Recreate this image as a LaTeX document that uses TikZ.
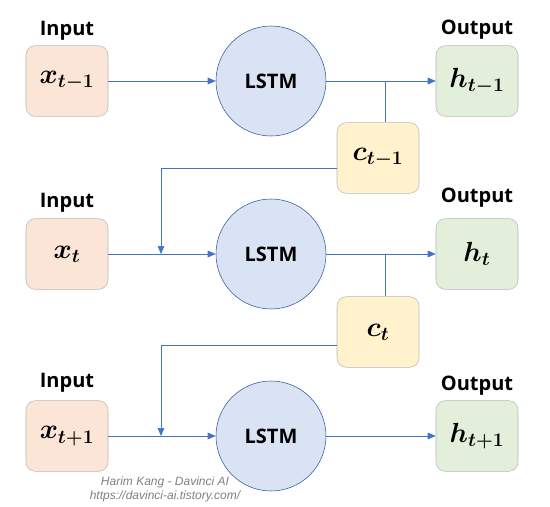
\documentclass[tikz,border=0pt]{standalone}
\usepackage{amsmath}
\usepackage{fontspec}
\setsansfont{Open Sans}
\newfontfamily\markfont{Liberation Sans}
\usetikzlibrary{arrows.meta, positioning}

\definecolor{inFill}{HTML}{FBE5D6}
\definecolor{outFill}{HTML}{E2EFDA}
\definecolor{cellFill}{HTML}{FFF2CC}
\definecolor{lstmFill}{HTML}{DAE3F3}
\definecolor{lstmLine}{HTML}{2F5597}
\definecolor{flowLine}{HTML}{4472C4}

\begin{document}
\begin{tikzpicture}[
        x=0.75pt,
        y=-0.75pt,
        box/.style={draw=gray!55,rounded corners=7pt,minimum width=61.5pt,minimum height=53pt,inner sep=0pt,font=\fontsize{20}{22}\selectfont},
        inbox/.style={box,fill=inFill},
        outbox/.style={box,fill=outFill},
        cellbox/.style={box,fill=cellFill},
        lstm/.style={circle,draw=lstmLine,fill=lstmFill,minimum size=82.5pt,inner sep=0pt,font=\sffamily\bfseries\fontsize{15}{17}\selectfont},
        lbl/.style={font=\sffamily\bfseries\fontsize{15}{17}\selectfont,inner sep=1pt},
        flow/.style={-{Triangle[length=6pt,width=5pt]},flowLine},
        wire/.style={flowLine}
    ]
        \useasboundingbox (0,0) rectangle (550,507);
        % three time steps
        \node[inbox] (x1) at (67,81) {$\boldsymbol{x_{t-1}}$};
        \node[inbox] (x2) at (67,254) {$\boldsymbol{x_{t}}$};
        \node[inbox] (x3) at (67,436) {$\boldsymbol{x_{t+1}}$};
        \node[lstm] (l1) at (271,81) {LSTM};
        \node[lstm] (l2) at (271,254) {LSTM};
        \node[lstm] (l3) at (271,436) {LSTM};
        \node[outbox] (h1) at (477,81) {$\boldsymbol{h_{t-1}}$};
        \node[outbox] (h2) at (477,254) {$\boldsymbol{h_{t}}$};
        \node[outbox] (h3) at (477,436) {$\boldsymbol{h_{t+1}}$};
        \node[cellbox] (c1) at (378,158) {$\boldsymbol{c_{t-1}}$};
        \node[cellbox] (c2) at (378,332) {$\boldsymbol{c_{t}}$};
        % labels
        \node[lbl,above=2.5pt of x1] (lx1) {Input};
        \node[lbl,above=3pt of x2] (lx2) {Input};
        \node[lbl,above=5pt of x3] (lx3) {Input};
        \node[lbl,above=3pt of h1] (lh1) {Output};
        \node[lbl,above=7pt of h2] (lh2) {Output};
        \node[lbl,above=3pt of h3] (lh3) {Output};
        % flows
        \draw[flow] (x1) -- (l1);
        \draw[flow] (x2) -- (l2);
        \draw[flow] (x3) -- (l3);
        \draw[flow] (l1) -- (h1);
        \draw[flow] (l2) -- (h2);
        \draw[flow] (l3) -- (h3);
        % cell state carried down
        \coordinate (j1) at (385,81);
        \coordinate (j2) at (385,254);
        \coordinate (k1) at (161,254);
        \coordinate (k2) at (161,436);
        \draw[wire] (j1) -- (j1 |- c1.north);
        \draw[wire] (j2) -- (j2 |- c2.north);
        \draw[flow] ([yshift=-7.5pt]c1.west) -| (k1);
        \draw[flow] ([yshift=-9.75pt]c2.west) -| (k2);
        % watermark
        \node[gray,font=\markfont\itshape\fontsize{9}{10.5}\selectfont,align=center] (mark) at (165,489) {Harim Kang - Davinci AI\\https://davinci-ai.tistory.com/};
    \end{tikzpicture}
\end{document}
